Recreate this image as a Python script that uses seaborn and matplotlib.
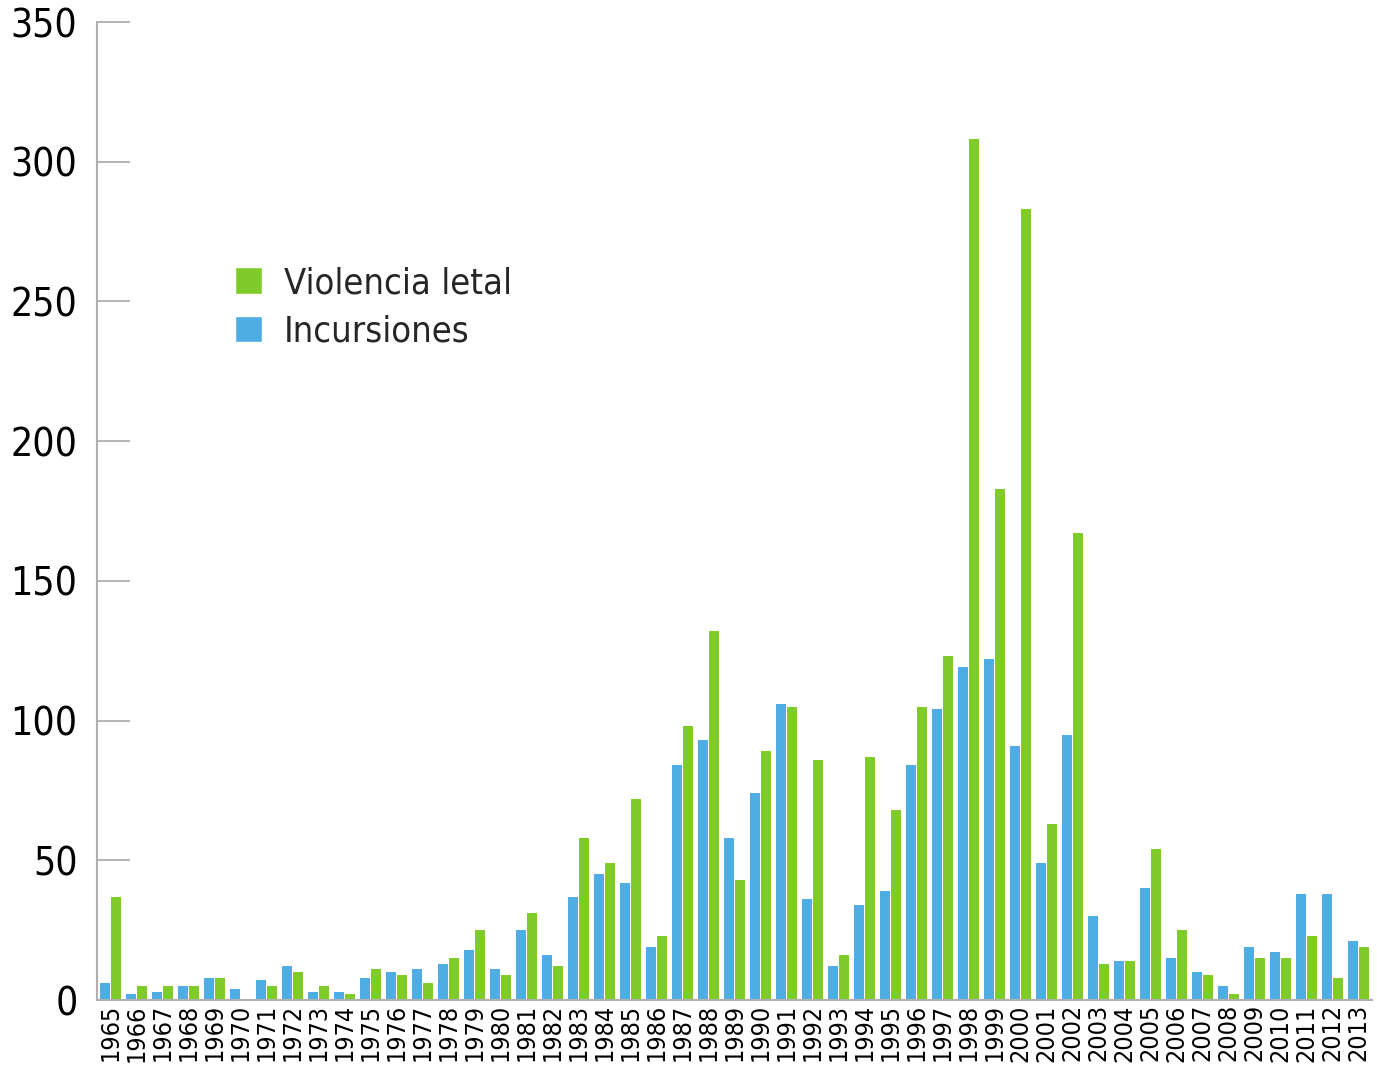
import pandas as pd
import matplotlib.pyplot as plt
import numpy as np
import seaborn as sns
from matplotlib.patches import Patch

# ===================== 数据 =====================
years = list(range(1965, 2014))

incursiones = [6, 2, 3, 5, 8, 4, 7, 12, 3, 3,
               8, 10, 11, 13, 18, 11, 25, 16, 37, 45,
               42, 19, 84, 93, 58, 74, 106, 36, 12, 34,
               39, 84, 104, 119, 122, 91, 49, 95, 30, 14,
               40, 15, 10, 5, 19, 17, 38, 38, 21]

violencia_letal = [37, 5, 5, 5, 8, 0, 5, 10, 5, 2,
                   11, 9, 6, 15, 25, 9, 31, 12, 58, 49,
                   72, 23, 98, 132, 43, 89, 105, 86, 16, 87,
                   68, 105, 123, 308, 183, 283, 63, 167, 13, 14,
                   54, 25, 9, 2, 15, 15, 23, 8, 19]

SERIES = ['Incursiones', 'Violencia letal']
COLORS = {'Incursiones': '#4eade3', 'Violencia letal': '#7fcb2a'}
y_ticks = [0, 50, 100, 150, 200, 250, 300, 350]

df = pd.DataFrame({
    'year': [str(y) for y in years] * 2,
    'value': incursiones + violencia_letal,
    'serie': ['Incursiones'] * len(years) + ['Violencia letal'] * len(years),
})

# ===================== 样式 =====================
sns.set_style('white')
plt.rcParams['font.family'] = ['DejaVu Sans']
plt.rcParams['font.stretch'] = 'condensed'

fig = plt.figure(figsize=(13.77, 10.68), dpi=100)
ax = fig.add_axes([97 / 1377, 68 / 1068, 1275 / 1377, 978 / 1068])

sns.barplot(data=df, x='year', y='value', hue='serie', hue_order=SERIES,
            palette=COLORS, width=0.81, gap=0.05, saturation=1,
            edgecolor='none', linewidth=0, ax=ax, legend=False)

ax.set_xlim(-0.52, len(years) - 0.48)
ax.set_ylim(0, 350)
ax.set_yticks(y_ticks)
ax.set_yticklabels([str(t) for t in y_ticks])
ax.set_xlabel('')
ax.set_ylabel('')

for s in ['top', 'right']:
    ax.spines[s].set_visible(False)
for s in ['left', 'bottom']:
    ax.spines[s].set_color('#b0b0b0')
    ax.spines[s].set_linewidth(1.5)

ax.tick_params(axis='y', left=True, direction='in', length=24, width=1.2,
               color='#a8a8a8', labelcolor='black', pad=14, labelsize=28)
ax.tick_params(axis='x', bottom=False, length=0, pad=3, labelsize=18,
               labelrotation=90, labelcolor='black')
for lab in ax.get_xticklabels():
    lab.set_va('top')

# 图例（绿色在上）
handles = [Patch(facecolor=COLORS['Violencia letal'], label='Violencia letal'),
           Patch(facecolor=COLORS['Incursiones'], label='Incursiones')]
ax.legend(handles=handles, loc='upper left', bbox_to_anchor=(0.097, 0.765),
          frameon=False, fontsize=26, handlelength=0.75, handleheight=0.75,
          handletextpad=0.6, labelspacing=0.4, borderaxespad=0)

plt.savefig('out.png', dpi=100)
